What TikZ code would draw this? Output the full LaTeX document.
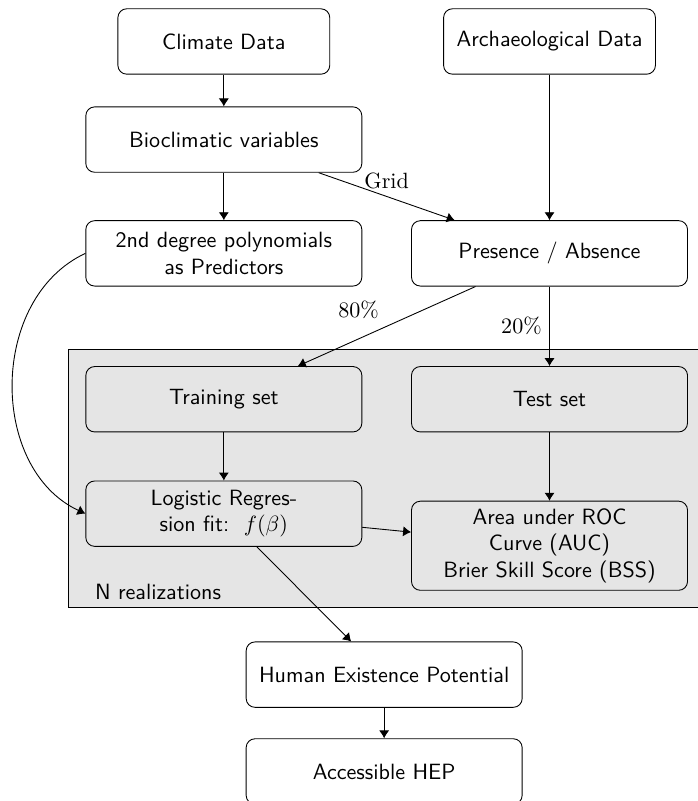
\documentclass[tikz,border=0pt]{standalone}
\usepackage{amsmath}
\usetikzlibrary{arrows.meta,positioning,fit,backgrounds}

\begin{document}
\begin{tikzpicture}[>={Latex[length=3.6pt,width=4.6pt]},
  box/.style={draw,rounded corners,minimum width=4.39cm,minimum height=1.04cm,align=center,font=\sffamily},
  srcbox/.style={box,minimum width=3.37cm}]
\useasboundingbox (0,0) rectangle (11.10,-12.74);
% data sources
\node[srcbox] (climate) at (3.56,-0.66) {Climate Data};
\node[srcbox] (archaeo) at (8.74,-0.66) {Archaeological Data};
\node[box] (bioclim) at (3.56,-2.22) {Bioclimatic variables};
\node[box] (poly) at (3.56,-4.03) {2nd degree polynomials\\as Predictors};
\node[box] (presence) at (8.74,-4.03) {Presence / Absence};
% repeated part
\node[box] (training) at (3.56,-6.35) {Training set};
\node[box] (test) at (8.74,-6.35) {Test set};
\node[box] (logreg) at (3.56,-8.17) {Logistic Regres-\\sion fit:\ \ $f(\beta)$};
\node[box] (auc) at (8.74,-8.68) {Area under ROC\\Curve (AUC)\\Brier Skill Score (BSS)};
\begin{scope}[on background layer]
\node[draw,fill=gray!20,inner sep=7.5pt,fit=(training)(test)(logreg)(auc)] (nrun) {};
\end{scope}
\node[font=\sffamily,above right=0cm and 0.3cm of nrun.south west] (nlabel) {N realizations};
% result
\node[box] (hep) at (6.11,-10.73) {Human Existence Potential};
\node[box] (access) at (6.11,-12.27) {Accessible HEP};
\draw[->] (climate) -- (bioclim);
\draw[->] (bioclim) -- (poly);
\draw[->] (archaeo) -- (presence);
\draw[->] (bioclim) -- node[above]{Grid} (presence);
\draw[->] (presence) -- node[above left]{80\%} (training);
\draw[->] (presence) -- node[left]{20\%} (test);
\draw[->] (poly.west) to[out=205,in=155,looseness=1.05] (logreg.west);
\draw[->] (training) -- (logreg);
\draw[->] (test) -- (auc);
\draw[->] (logreg) -- (auc);
\draw[->] (logreg) -- (hep);
\draw[->] (hep) -- (access);
\end{tikzpicture}
\end{document}
